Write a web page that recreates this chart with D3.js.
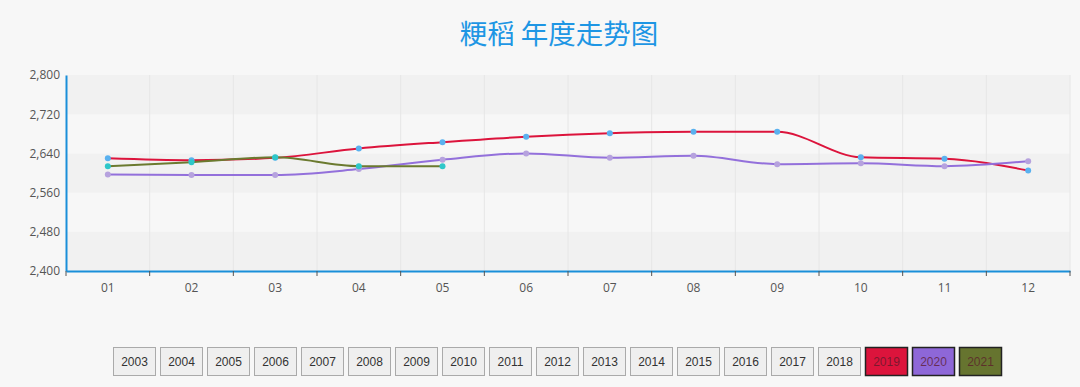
<!DOCTYPE html>
<html><head><meta charset="utf-8">
<script src="https://cdn.jsdelivr.net/npm/d3@7"></script>
<style>
html,body{margin:0;padding:0;background:#f7f7f7;}
svg{display:block;font-family:"Open Sans","Noto Sans","Noto Sans CJK SC",sans-serif;}
</style></head>
<body>
<svg id="chart" width="1080" height="387"></svg>
<script>
const title = "粳稻 年度走势图";
const months = ["01","02","03","04","05","06","07","08","09","10","11","12"];
const yTicks = [2400, 2480, 2560, 2640, 2720, 2800];
const s2019 = [2630, 2626, 2631, 2650, 2663, 2674, 2681, 2684, 2684, 2632, 2629, 2605];
const s2020 = [2597, 2596, 2596, 2608, 2627, 2640, 2631, 2635, 2618, 2620, 2614, 2624];
const s2021 = [2614, 2622, 2632, 2614, 2614];
const years = ["2003","2004","2005","2006","2007","2008","2009","2010","2011","2012","2013","2014","2015","2016","2017","2018","2019","2020","2021"];
const seriesDefs = [
  {year:"2019", values:s2019, line:"#dc143c", dot:"#5ab1ef"},
  {year:"2020", values:s2020, line:"#9370db", dot:"#b6a2de"},
  {year:"2021", values:s2021, line:"#6b7a2f", dot:"#2ec7c9"}
];
const btnColors = {"2019":"#dc143c","2020":"#8e67d8","2021":"#66742f"};

const svg = d3.select("#chart");
const L = 66, R = 1070, T = 75, B = 271;

svg.append("text").attr("x", 559).attr("y", 44).attr("text-anchor","middle")
  .attr("font-size", 27.5).attr("fill", "#1e96e4")
  .attr("font-family", "'Noto Sans CJK SC',sans-serif").text(title);

const x = d3.scaleBand().domain(months).range([L, R]);
const y = d3.scaleLinear().domain([2400, 2800]).range([B, T]);

// bands
const g = svg.append("g");
for (let i = 0; i < yTicks.length - 1; i++) {
  g.append("rect").attr("x", L).attr("width", R - L)
   .attr("y", y(yTicks[i+1])).attr("height", y(yTicks[i]) - y(yTicks[i+1]))
   .attr("fill", i % 2 === 0 ? "#f1f1f1" : "#f7f7f7");
}
// vertical grid
months.forEach((m, i) => {
  if (i === 0) return;
  g.append("line").attr("x1", x(m)).attr("x2", x(m)).attr("y1", T).attr("y2", B)
   .attr("stroke", "#e6e6e6").attr("stroke-width", 1);
});
g.append("line").attr("x1", R).attr("x2", R).attr("y1", T).attr("y2", B)
   .attr("stroke", "#e6e6e6");

// y axis
const ya = svg.append("g").attr("transform", `translate(${L},0)`)
  .call(d3.axisLeft(y).tickValues(yTicks).tickSize(0).tickPadding(6).tickFormat(d3.format(",")));
ya.select(".domain").attr("stroke", "#1a8fd9").attr("stroke-width", 2);
ya.selectAll("text").attr("font-size", 12).attr("fill", "#555").attr("font-family","'Open Sans',sans-serif");

// x axis
const xa = svg.append("g").attr("transform", `translate(0,${B})`)
  .call(d3.axisBottom(x).tickSize(0).tickPadding(12));
xa.select(".domain").attr("stroke", "#1a8fd9").attr("stroke-width", 2);
xa.selectAll("text").attr("font-size", 12).attr("fill", "#555").attr("font-family","'Open Sans',sans-serif");
const bounds = months.map(m => x(m)).concat([R]);
xa.selectAll(".btick").data(bounds).enter().append("line").attr("class","btick")
  .attr("x1", d => d).attr("x2", d => d).attr("y1", 0).attr("y2", 5)
  .attr("stroke", "#555").attr("stroke-width", 1);

// series
const line = d3.line().curve(d3.curveMonotoneX)
  .x((d, i) => x(months[i]) + x.bandwidth() / 2).y(d => y(d));
seriesDefs.forEach(s => {
  svg.append("path").attr("d", line(s.values)).attr("fill", "none")
    .attr("stroke", s.line).attr("stroke-width", 2);
});
seriesDefs.forEach(s => {
  svg.selectAll(null).data(s.values).enter().append("circle")
    .attr("cx", (d, i) => x(months[i]) + x.bandwidth() / 2).attr("cy", d => y(d))
    .attr("r", 3).attr("fill", s.dot);
});

// year buttons
const bx = d3.scaleBand().domain(years).range([113, 113 + 47 * 18 + 43]).paddingInner(4/47).paddingOuter(0);
const bg = svg.append("g");
years.forEach(yr => {
  const col = btnColors[yr];
  bg.append("rect").attr("x", bx(yr) + 0.5).attr("y", 347.5).attr("width", 42).attr("height", 28)
    .attr("fill", col || "#efefef").attr("stroke", col ? "#222" : "#aaa").attr("stroke-width", col ? 1.5 : 1);
  bg.append("text").attr("x", bx(yr) + 21.5).attr("y", 365.5).attr("text-anchor", "middle")
    .attr("font-size", 12).attr("font-family", "'Liberation Sans',Arial,sans-serif")
    .attr("fill", col ? "#5a1a2a" : "#333").attr("fill-opacity", col ? 0.75 : 1).text(yr);
});
</script>
</body></html>
